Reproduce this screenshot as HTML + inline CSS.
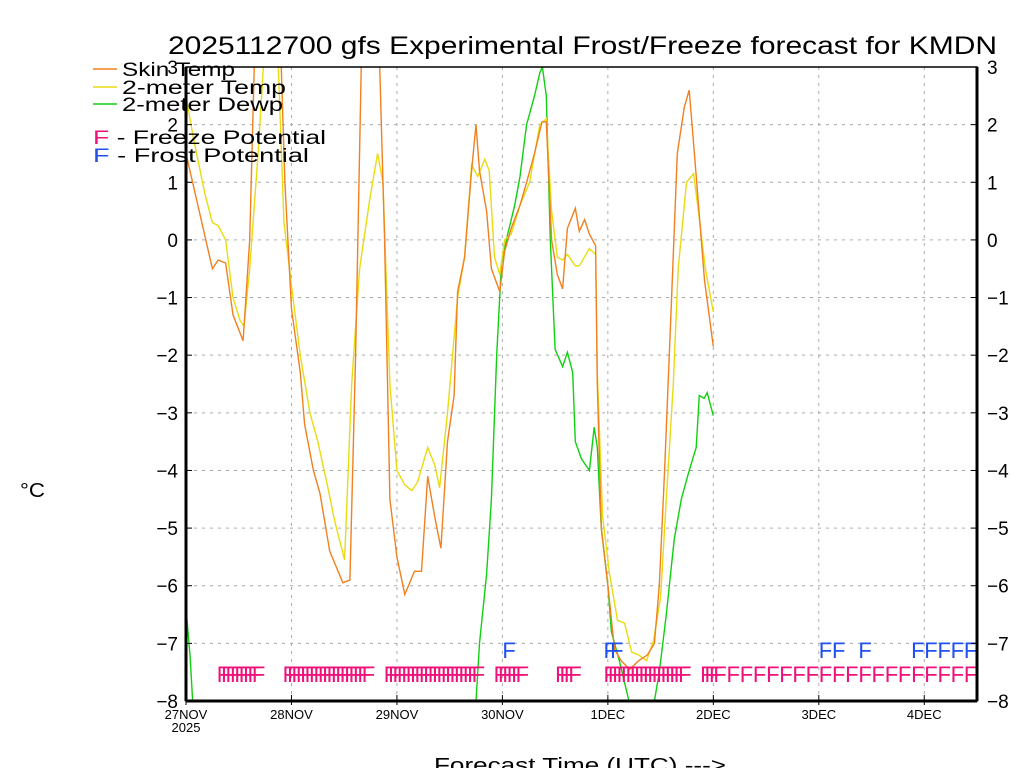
<!DOCTYPE html>
<html><head><meta charset="utf-8"><style>
body{margin:0;background:#fff;}
svg{display:block;font-family:"Liberation Sans",sans-serif;}
</style></head><body>
<svg id="chart" width="1024" height="768" viewBox="0 0 1024 768">
<rect width="1024" height="768" fill="#fff"/>
<defs><clipPath id="pc"><rect x="186" y="67" width="791" height="634"/></clipPath></defs>
<text x="168" y="54" font-size="25" textLength="829" lengthAdjust="spacingAndGlyphs">2025112700 gfs Experimental Frost/Freeze forecast for KMDN</text>
<g id="grid"></g>
<g id="series" clip-path="url(#pc)"></g>
<g id="marks"></g>
<g id="axes"></g>
<text x="20" y="497" font-size="20" textLength="25" lengthAdjust="spacingAndGlyphs">°C</text>
<text x="434" y="772" font-size="20" textLength="292" lengthAdjust="spacingAndGlyphs">Forecast Time (UTC) ---&gt;</text>
<g font-size="19">
<line x1="93" y1="69" x2="117" y2="69" stroke="#f08020" stroke-width="1.5"/><text x="122" y="76" textLength="113" lengthAdjust="spacingAndGlyphs">Skin Temp</text>
<line x1="93" y1="87" x2="117" y2="87" stroke="#e8dc10" stroke-width="1.5"/><text x="122" y="94" textLength="164" lengthAdjust="spacingAndGlyphs">2-meter Temp</text>
<line x1="93" y1="104" x2="117" y2="104" stroke="#10d010" stroke-width="1.5"/><text x="122" y="111" textLength="161" lengthAdjust="spacingAndGlyphs">2-meter Dewp</text>
<text x="93" y="144" textLength="233" lengthAdjust="spacingAndGlyphs"><tspan fill="#f0107a">F</tspan> - Freeze Potential</text>
<text x="93" y="162" textLength="216" lengthAdjust="spacingAndGlyphs"><tspan fill="#2050f0">F</tspan> - Frost Potential</text>
</g>
</svg>
<script>
const dayLabels=["27NOV","28NOV","29NOV","30NOV","1DEC","2DEC","3DEC","4DEC"];
const yTicks=[3,2,1,0,-1,-2,-3,-4,-5,-6,-7,-8];
const skinHours=[0,3,6,7.3,9,10.7,13,14.5,15.7,18.5,21.6,22.5,24,26,27,29,30.5,32.7,35.7,37.3,38.6,40,42,44,45.2,46.4,48,49.8,52,53.6,55,56.6,58,59.5,61,61.8,63.4,65,66,66.8,68.4,69.5,71.4,72.5,74,76,77.5,79.3,81,82,83.2,84.5,85.7,86.8,88.6,89.5,90.7,91.8,93.2,93.6,94.5,96,97.5,99,101,103,105,106.6,107.7,108.9,110.5,111.8,113.4,114.5,115.7,118,120];
const skinVals=[1.5,0.5,-0.5,-0.35,-0.4,-1.3,-1.75,0,3.5,4,3.2,1,-1.2,-2.3,-3.2,-4.0,-4.4,-5.4,-5.95,-5.9,-2,3.5,4,3.2,0,-4.5,-5.5,-6.15,-5.75,-5.75,-4.1,-4.8,-5.35,-3.5,-2.7,-0.9,-0.3,1.2,2.0,1.2,0.5,-0.5,-0.9,-0.2,0.2,0.6,1.0,1.5,2.05,2.05,0,-0.6,-0.85,0.2,0.55,0.15,0.35,0.1,-0.1,-2.5,-5,-6,-7.1,-7.3,-7.45,-7.3,-7.2,-7.0,-6,-4,-1,1.5,2.3,2.6,1.5,-0.7,-1.85];
const t2Hours=[0,1.6,4.3,6,7.3,9,10.7,12.3,13.2,14.5,16.4,18,19.5,21,22.3,24,26,28.2,30,32.3,33.9,36.1,37.7,39.5,41.8,43.6,44.8,46.4,48,49.8,51.4,52.7,55,56.6,57.7,59.5,61.8,63.4,65,66.4,68,69,70.2,71.4,72.5,74,76,78.2,80.5,82,83.2,84.5,85.7,86.8,88.6,89.5,91.8,93.2,93.6,94.8,96.4,98.2,99.8,101.4,103,104.8,106.4,108,109.3,110.9,112,113.9,115.5,116.6,118.2,120];
const t2Vals=[2.5,1.8,0.8,0.3,0.25,0,-1.0,-1.4,-1.5,-0.5,1.5,3.5,3.2,3,0.3,-0.8,-2.0,-3.0,-3.5,-4.3,-4.9,-5.55,-2.5,-0.5,0.7,1.5,1,-2.5,-4,-4.25,-4.35,-4.2,-3.6,-3.9,-4.3,-3.0,-1.0,-0.3,1.3,1.1,1.4,1.2,-0.3,-0.6,0,0.1,0.6,1.0,2.0,2.1,0.5,-0.3,-0.35,-0.25,-0.45,-0.45,-0.15,-0.25,-2.3,-4.8,-5.8,-6.6,-6.65,-7.15,-7.2,-7.3,-6.95,-6.2,-4.5,-2.5,-0.5,1.0,1.15,0.5,-0.5,-1.25];
const dewHours=[0,0.9,1.6,66,66.8,68.4,69.5,70.7,71.8,73.2,74.8,76,77.5,79.3,80.5,81.1,82,82.9,84,85.7,86.8,88,88.6,90,91.8,92.9,93.6,94.5,96,96.8,98.6,100.5,101.4,105.5,106.6,107.7,109.3,111.1,112.7,114.5,116.1,116.8,117.9,118.6,120];
const dewVals=[-6.4,-7.2,-8.1,-8,-7,-5.8,-4.5,-2,-0.4,0.1,0.6,1.1,2.0,2.5,2.9,3.0,2.5,0,-1.9,-2.2,-1.95,-2.3,-3.5,-3.8,-4.0,-3.25,-3.6,-5,-6,-6.8,-7.3,-7.9,-8.2,-8.2,-8.0,-7.5,-6.5,-5.2,-4.5,-4.0,-3.6,-2.7,-2.75,-2.65,-3.05];
const freezeHours=[7,8,9,10,11,12,13,14,15,22,23,24,25,26,27,28,29,30,31,32,33,34,35,36,37,38,39,40,45,46,47,48,49,50,51,52,53,54,55,56,57,58,59,60,61,62,63,64,65,70,71,72,73,74,75,84,85,86,87,95,96,97,98,99,100,101,102,103,104,105,106,107,108,109,110,111,112,117,118,119,120,123,126,129,132,135,138,141,144,147,150,153,156,159,162,165,168,171,174,177];
const frostHours=[72,95,96.5,144,147,153,165,168,171,174,177];

const NS="http://www.w3.org/2000/svg";
const X0=186,X1=977,Y0=67,Y1=701,HMAX=180;
function xS(h){return X0+(X1-X0)*h/HMAX;}
function yS(v){return Y0+(Y1-Y0)*(3-v)/11;}
function mk(tag,attrs,parent){const e=document.createElementNS(NS,tag);for(const k in attrs)e.setAttribute(k,attrs[k]);parent.appendChild(e);return e;}
const grid=document.getElementById('grid'),axes=document.getElementById('axes'),series=document.getElementById('series'),marks=document.getElementById('marks');
yTicks.forEach(v=>{
  const y=yS(v);
  if(v<3&&v>-8){const g=mk('line',{x1:X0,x2:X1,y1:y,y2:y,stroke:'#aaa','stroke-dasharray':'3,5'},grid);
  
  }
  const lab=(v<0?'\u2212':'')+Math.abs(v);
  const tl=mk('text',{x:X0-8,y:y+7,'text-anchor':'end','font-size':19},axes);tl.textContent=lab;
  
  
  const tr=mk('text',{x:X1+10,y:y+7,'font-size':19},axes);tr.textContent=lab;
  
  
  mk('line',{x1:X0,x2:X0+6,y1:y,y2:y,stroke:'#000'},axes);
  mk('line',{x1:X1-6,x2:X1,y1:y,y2:y,stroke:'#000'},axes);
});
dayLabels.forEach((d,i)=>{
  const x=xS(i*24);
  if(i>0){const g=mk('line',{x1:x,x2:x,y1:Y0,y2:Y1,stroke:'#aaa','stroke-dasharray':'3,5'},grid);
  
  }
  mk('line',{x1:x,x2:x,y1:Y1-6,y2:Y1+4,stroke:'#000'},axes);
  const t=mk('text',{x:x,y:719,'text-anchor':'middle','font-size':13},axes);t.textContent=d;
  
  
});
const yr=mk('text',{x:xS(0),y:732,'text-anchor':'middle','font-size':13},axes);yr.textContent='2025';


const fr=mk('rect',{x:X0,y:Y0,width:X1-X0,height:Y1-Y0,fill:'none',stroke:'#000','stroke-width':1.5},axes);


mk('line',{x1:X0,x2:X0,y1:Y0,y2:Y1,stroke:'#000','stroke-width':3},axes);
mk('line',{x1:X0,x2:X1,y1:Y1,y2:Y1,stroke:'#000','stroke-width':3},axes);
mk('line',{x1:X1,x2:X1,y1:Y0,y2:Y1,stroke:'#000','stroke-width':3},axes);
function line(hs,vs,color,name){
  const d=hs.map((h,i)=>(i?'L':'M')+xS(h).toFixed(1)+','+yS(vs[i]).toFixed(1)).join('');
  const p=mk('path',{d:d,fill:'none',stroke:color,'stroke-width':1.4},series);
  
  
}
line(dewHours.slice(0,3),dewVals.slice(0,3),'#10d010','dewpoint-line-start');
line(dewHours.slice(3),dewVals.slice(3),'#10d010','dewpoint-line');
line(t2Hours,t2Vals,'#e8dc10','2m-temp-line');
line(skinHours,skinVals,'#f08020','skin-temp-line');
freezeHours.forEach(h=>{
  const t=mk('text',{x:xS(h),y:682,'font-size':22,fill:'#f0107a'},marks);t.textContent='F';
  
  
});
frostHours.forEach(h=>{
  const t=mk('text',{x:xS(h),y:658,'font-size':22,fill:'#2050f0'},marks);t.textContent='F';
  
  
});
</script>
</body></html>
